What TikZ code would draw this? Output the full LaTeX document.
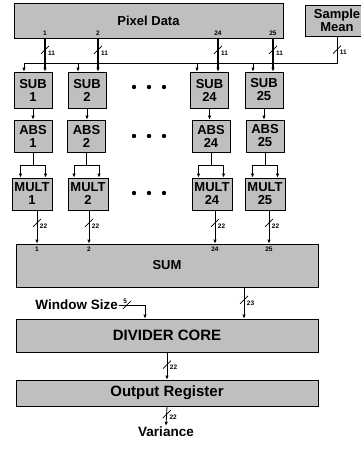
\documentclass[tikz,border=0pt]{standalone}
\usepackage{fontspec}
\setmainfont{Liberation Sans}
\usetikzlibrary{arrows.meta,calc}
\begin{document}
\begin{tikzpicture}[x=1pt,y=-1pt,
 box/.style={draw=black, line width=0.8pt, fill=gray!50, font=\fontsize{13}{13}\selectfont\bfseries, align=center, inner sep=0pt},
 wide/.style={font=\fontsize{15}{15}\selectfont\bfseries},
 line/.style={line width=0.8pt},
 arr/.style={-{Latex[length=4pt,width=3.5pt]}, line width=0.8pt},
 thickarr/.style={arr, line width=1.4pt},
 small/.style={font=\fontsize{6.5}{7}\selectfont\bfseries, inner sep=0.5pt},
 lbl/.style={font=\fontsize{13.5}{14}\selectfont\bfseries, inner sep=1pt},
 bw/.pic={\draw[-, line width=0.7pt] (-4,4)--(4,-4); \node[small,anchor=west] at (2,3) {#1};},
 bwu/.pic={\draw[-, line width=0.7pt] (-4,4)--(4,-4); \node[small,anchor=south east] at (1,-1) {#1};}
]
\useasboundingbox (0,0) rectangle (361,451);

% top sources
\node[box,minimum width=269pt,minimum height=35pt] (pix) at (148.5,20.5) {Pixel Data};
\node[box,minimum width=64pt,minimum height=31pt] (mean) at (337,20.5) {Sample\\Mean};

% big blocks
\node[box,minimum width=302pt,minimum height=43pt] (sum) at (167,265.5) {SUM};
\node[box,wide,minimum width=302pt,minimum height=33pt] (div) at (167,335.5) {DIVIDER CORE};
\node[box,wide,minimum width=302pt,minimum height=26pt] (out) at (167,393) {Output Register};
\node[lbl] (var) at (166,432) {Variance};
\node[lbl,anchor=east] (ws) at (119,305) {Window Size};

% columns
\foreach \n/\sx/\ax/\mx/\px/\bx/\ox in {1/33/33/32/45/24/37, 2/87/86.5/88/98/78/89, 24/209.5/211/212/218/197/215, 25/264/265/265/273/253/269}{
  \node[box,minimum width=38pt,minimum height=36pt] (sub\n) at (\sx,90) {SUB\\\n};
  \node[box,minimum width=38pt,minimum height=32pt] (abs\n) at (\ax,136) {ABS\\\n};
  \node[box,minimum width=40pt,minimum height=32pt] (mul\n) at (\mx,194) {MULT\\\n};
  \node[small] (pl\n) at (\px,33) {\n};
  \node[small] (sl\n) at (\ox,249) {\n};
  \coordinate (pp\n) at (\px,38);
  \coordinate (b\n) at (\bx,63);
  \coordinate (f\n) at (\ax,165);
  \coordinate (fl\n) at (\ax-12.5,165);
  \coordinate (fr\n) at (\ax+12.5,165);
  \coordinate (mo\n) at (\ox,210);
}

% sample mean bus
\draw[line] (mean.south) -- pic[pos=0.5]{bw=11} (mean.south |- b1) -- (b1);

\foreach \n in {1,2,24,25}{
  \draw[arr] (b\n) -- (b\n |- sub\n.north);
  \draw[thickarr] (pp\n) -- pic[pos=0.35]{bw=11} (pp\n |- sub\n.north);
  \draw[arr] (sub\n.south) -- (sub\n.south |- abs\n.north);
  \draw[line] (abs\n.south) -- (f\n);
  \draw[arr] (f\n) -- (fl\n) -- (fl\n |- mul\n.north);
  \draw[arr] (f\n) -- (fr\n) -- (fr\n |- mul\n.north);
  \draw[arr] (mo\n) -- pic[pos=0.38]{bw=22} (mo\n |- sum.north);
}

% dots
\foreach \y in {87,136,193}{
  \foreach \x in {134,149,164}{
    \fill (\x,\y) circle (2.2);
  }
}

% lower chain
\coordinate (sdx) at (244,0);
\draw[arr] (sum.south -| sdx) -- pic[pos=0.4]{bw=23} (sdx |- div.north);
\coordinate (wc) at (145,305);
\draw[line] (ws.east) -- pic[pos=0.3]{bwu=5} (wc);
\draw[arr] (wc) -- (wc |- div.north);
\draw[arr] (div.south) -- pic[pos=0.45]{bw=22} (out.north);
\draw[arr] (out.south) -- pic[pos=0.4]{bw=22} (var.north);
\end{tikzpicture}
\end{document}
